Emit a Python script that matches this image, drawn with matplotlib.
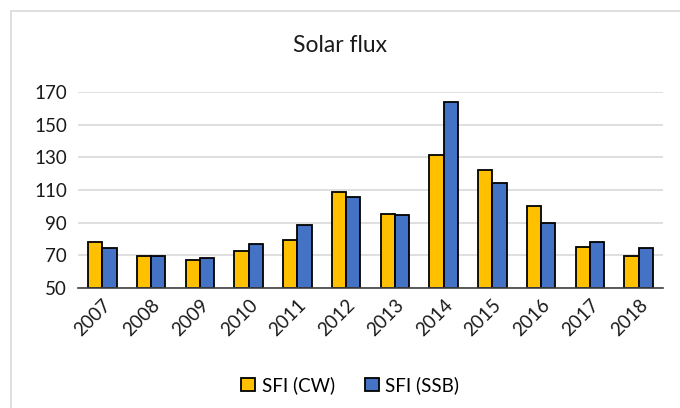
import numpy as np
import matplotlib.pyplot as plt
from matplotlib.patches import Rectangle

years = ["2007", "2008", "2009", "2010", "2011", "2012",
         "2013", "2014", "2015", "2016", "2017", "2018"]
sfi_cw = [78.4, 69.7, 66.9, 72.9, 79.6, 108.7, 95.6, 131.2, 122.2, 100.0, 75.3, 69.8]
sfi_ssb = [74.7, 69.7, 68.6, 77.0, 88.4, 105.6, 95.0, 163.9, 114.2, 90.0, 78.0, 74.7]
y_ticks = [50, 70, 90, 110, 130, 150, 170]

plt.rcParams['font.family'] = ['Lato', 'DejaVu Sans']

fig = plt.figure(figsize=(6.8, 4.08), dpi=100)
# light chart-area border
fig.patches.append(Rectangle((11 / 680, -0.05), 1.0, 1 - 11 / 408 + 0.05,
                             transform=fig.transFigure, fill=False,
                             edgecolor='#d9d9d9', linewidth=1.2))

ax = fig.add_axes([78 / 680, 1 - 288 / 408, 585 / 680, 196 / 408])

x = np.arange(len(years))
w = 0.29
ax.bar(x - w / 2, np.array(sfi_cw) - 50, w, bottom=50, color='#FFC000',
       edgecolor='black', linewidth=1.3, label='SFI (CW)', zorder=3)
ax.bar(x + w / 2, np.array(sfi_ssb) - 50, w, bottom=50, color='#4472C4',
       edgecolor='black', linewidth=1.3, label='SFI (SSB)', zorder=3)

ax.set_xlim(-0.5, len(years) - 0.5)
ax.set_ylim(50, 170)
ax.set_yticks(y_ticks)
ax.set_xticks(x)
ax.set_xticklabels(years, rotation=45, ha='right', rotation_mode='anchor')
ax.tick_params(axis='both', length=0, labelsize=13.5, colors='#1a1a1a')
ax.tick_params(axis='y', pad=8)
ax.tick_params(axis='x', pad=6)
ax.yaxis.grid(True, color='#d9d9d9', linewidth=1.2, zorder=0)
for s in ['top', 'right', 'left']:
    ax.spines[s].set_visible(False)
ax.spines['bottom'].set_color('#404040')
ax.spines['bottom'].set_linewidth(1.2)
ax.spines['bottom'].set_zorder(4)

fig.text(0.5, 1 - 45 / 408, 'Solar flux', ha='center', va='center',
         fontsize=16.5, color='#1a1a1a')

fig.legend(loc='center', bbox_to_anchor=(0.515, 1 - 385 / 408), ncol=2,
           frameon=False, fontsize=13.5, handlelength=0.75, handleheight=0.75,
           columnspacing=1.6, handletextpad=0.35)

fig.savefig('out.png', dpi=100)
